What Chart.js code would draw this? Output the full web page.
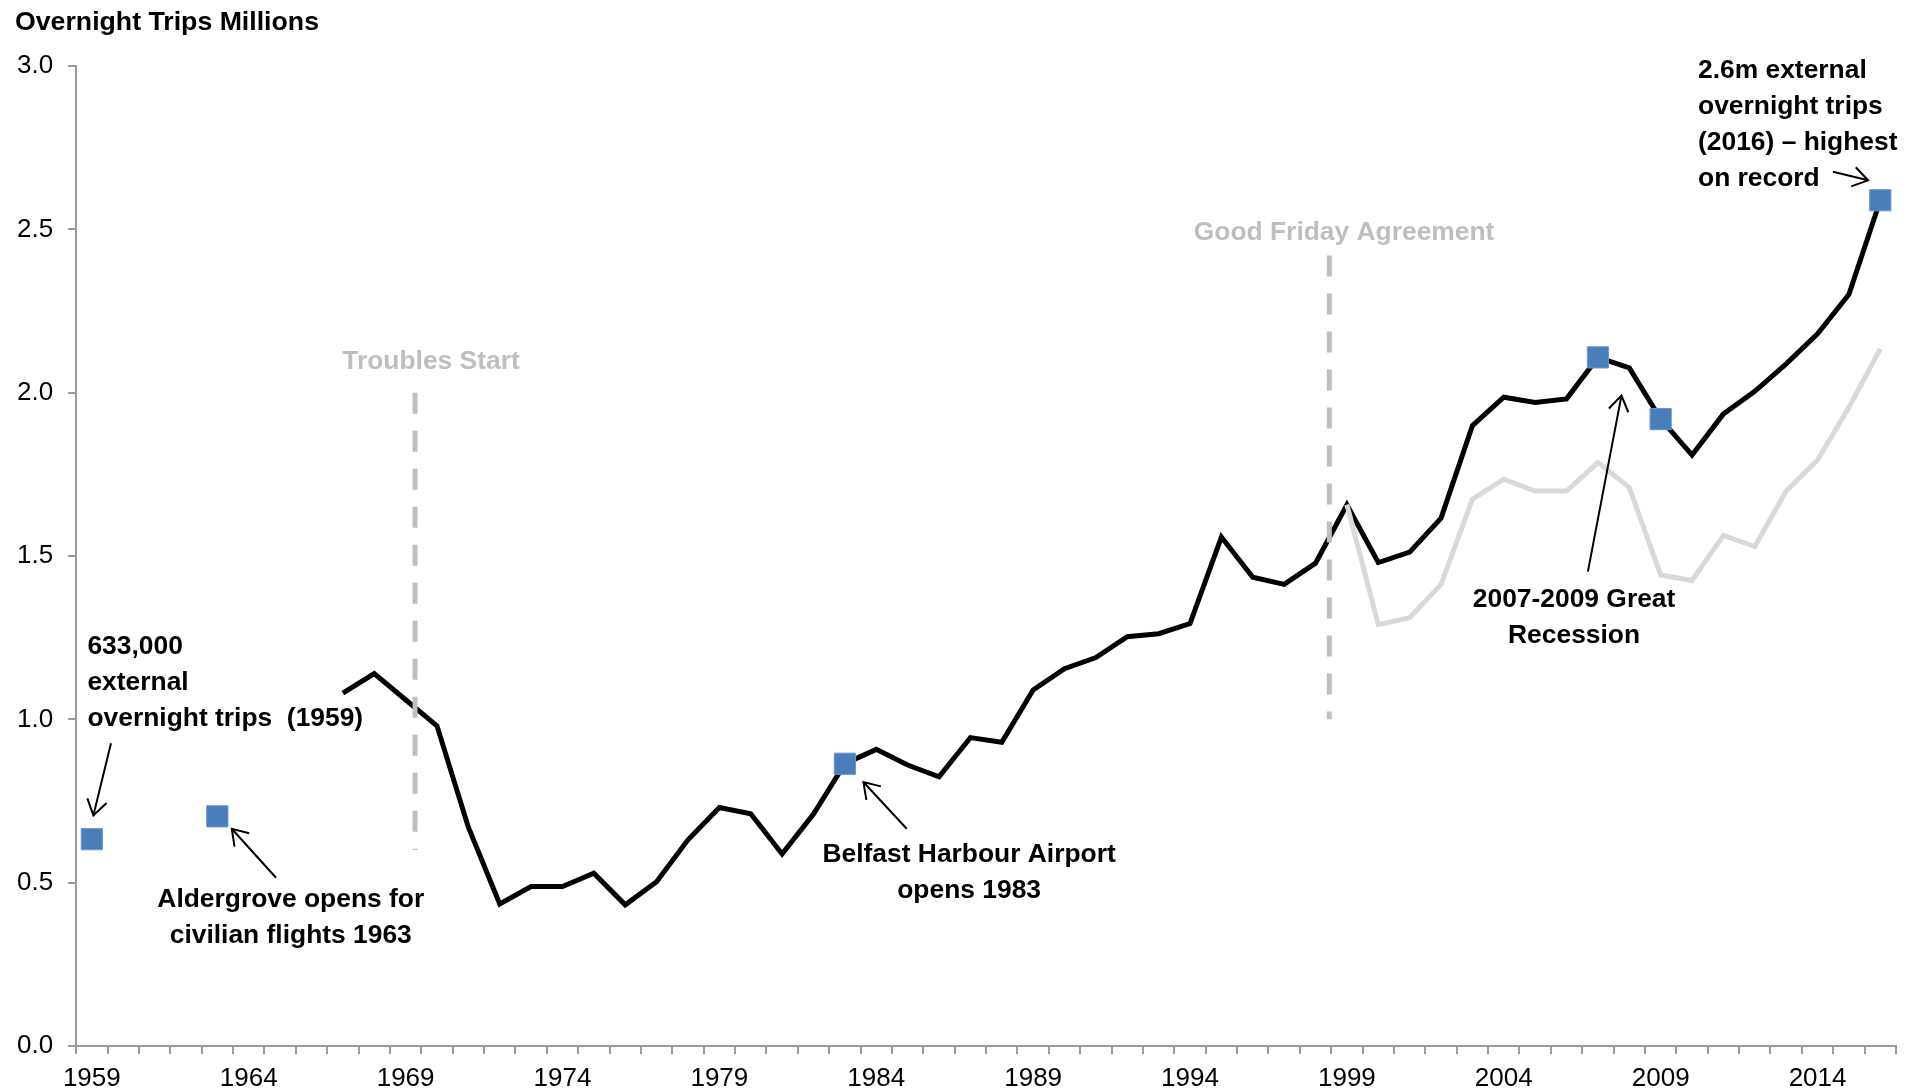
<!DOCTYPE html>
<html>
<head>
<meta charset="utf-8">
<title>Overnight Trips Millions</title>
<script src="https://cdn.jsdelivr.net/npm/chart.js@4.4.1/dist/chart.umd.min.js"></script>
<style>
  html, body { margin: 0; padding: 0; background: #fff; }
  canvas { display: block; }
</style>
</head>
<body>
<canvas id="tripsChart" width="1921" height="1090"></canvas>
<script>
// Categories: one per year
const years = [];
for (let y = 1959; y <= 2016; y++) years.push(y);
const labelYears = [1959, 1964, 1969, 1974, 1979, 1984, 1989, 1994, 1999, 2004, 2009, 2014];

const chartTitle = 'Overnight Trips Millions';

// Black line: external overnight trips (millions), from 1967
const totalStart = 1967;
const totalTrips = [
  1.08, 1.14, 1.06, 0.98, 0.67, 0.435, 0.488, 0.488, 0.529, 0.432,
  0.503, 0.631, 0.730, 0.711, 0.588, 0.710, 0.864, 0.908, 0.860, 0.824,
  0.944, 0.930, 1.090, 1.155, 1.189, 1.253, 1.262, 1.293, 1.558, 1.435,
  1.413, 1.478, 1.657, 1.480, 1.512, 1.616, 1.899, 1.986, 1.970, 1.981,
  2.108, 2.076, 1.919, 1.809, 1.935, 2.004, 2.088, 2.180, 2.301, 2.589
];

// Light grey line, from 1999
const greyStart = 1999;
const greyTrips = [
  1.657, 1.290, 1.311, 1.413, 1.674, 1.735, 1.699, 1.699, 1.786, 1.710,
  1.442, 1.425, 1.563, 1.529, 1.699, 1.794, 1.955, 2.134
];

// Blue squares
const markYears = [1959, 1963, 1983, 2007, 2009, 2016];
const markValues = [0.633, 0.703, 0.864, 2.108, 1.919, 2.589];

// Dashed event lines
const eventNames = ['Troubles Start', 'Good Friday Agreement'];
const eventYears = [1969.3, 1998.44];
const eventTop = [2.0, 2.42];
const eventBottom = [0.6, 1.0];
const eventLabelPos = [[1969.81, 2.071], [1998.91, 2.468]];

// Text notes (position = first baseline, in year / value units)
const notes = [
  { lines: ['633,000', 'external', 'overnight trips  (1959)'], at: [1958.86, 1.200], align: 'left' },
  { lines: ['Aldergrove opens for', 'civilian flights 1963'], at: [1965.34, 0.427], align: 'center' },
  { lines: ['Belfast Harbour Airport', 'opens 1983'], at: [1986.96, 0.564], align: 'center' },
  { lines: ['2007-2009 Great', 'Recession'], at: [2006.24, 1.344], align: 'center' },
  { lines: ['2.6m external', 'overnight trips', '(2016) \u2013 highest', 'on record'], at: [2010.19, 2.963], align: 'left' }
];

// Arrows: [from, to] in year / value units
const arrows = [
  [[1959.61, 0.927], [1959.05, 0.706]],
  [[1964.87, 0.515], [1963.46, 0.665]],
  [[1984.97, 0.665], [1983.59, 0.808]],
  [[2006.68, 1.452], [2007.75, 1.991]],
  [[2014.49, 2.676], [2015.61, 2.650]]
];

const fillFrom = (start, vals) => years.map(y => (y < start ? null : vals[y - start]));
const markData = years.map(y => {
  const i = markYears.indexOf(y);
  return i < 0 ? null : markValues[i];
});

const FONT = '"Liberation Sans", Arial, sans-serif';
Chart.defaults.font.family = FONT;

const notesPlugin = {
  id: 'notes',
  afterDatasetsDraw(chart) {
    const ctx = chart.ctx;
    const xs = chart.scales.xl;
    const ys = chart.scales.y;
    ctx.save();
    ctx.textBaseline = 'alphabetic';

    // chart title, top left
    ctx.font = 'bold 26.7px ' + FONT;
    ctx.fillStyle = '#000';
    ctx.textAlign = 'left';
    ctx.fillText(chartTitle, 15, 30);

    ctx.font = 'bold 26.4px ' + FONT;

    // event labels
    ctx.fillStyle = '#bfbfbf';
    ctx.textAlign = 'center';
    eventNames.forEach((name, i) => {
      ctx.fillText(name, xs.getPixelForValue(eventLabelPos[i][0]), ys.getPixelForValue(eventLabelPos[i][1]));
    });

    // notes
    ctx.fillStyle = '#000';
    notes.forEach(n => {
      ctx.textAlign = n.align;
      const px = xs.getPixelForValue(n.at[0]);
      const py = ys.getPixelForValue(n.at[1]);
      n.lines.forEach((t, i) => ctx.fillText(t, px, py + i * 36));
    });

    // arrows
    ctx.strokeStyle = '#000';
    ctx.lineWidth = 2;
    arrows.forEach(([from, to]) => {
      const x1 = xs.getPixelForValue(from[0]), y1 = ys.getPixelForValue(from[1]);
      const x2 = xs.getPixelForValue(to[0]), y2 = ys.getPixelForValue(to[1]);
      const ang = Math.atan2(y1 - y2, x1 - x2);
      const len = 18, spread = 0.58;
      ctx.beginPath();
      ctx.moveTo(x1, y1);
      ctx.lineTo(x2, y2);
      ctx.moveTo(x2 + len * Math.cos(ang - spread), y2 + len * Math.sin(ang - spread));
      ctx.lineTo(x2, y2);
      ctx.lineTo(x2 + len * Math.cos(ang + spread), y2 + len * Math.sin(ang + spread));
      ctx.stroke();
    });
    ctx.restore();
  }
};

const eventSets = eventNames.map((name, i) => ({
  label: name,
  xAxisID: 'xl',
  data: [{ x: eventYears[i], y: eventTop[i] }, { x: eventYears[i], y: eventBottom[i] }],
  borderColor: '#bfbfbf',
  borderWidth: 5,
  borderDash: [21, 17],
  pointRadius: 0,
  order: 1
}));

new Chart(document.getElementById('tripsChart'), {
  type: 'line',
  data: {
    labels: years,
    datasets: [
      {
        label: 'Highlights',
        data: markData,
        showLine: false,
        pointStyle: 'rect',
        pointRadius: 15,
        pointBackgroundColor: '#4a7ebb',
        pointBorderColor: '#6a98cf',
        pointBorderWidth: 1,
        order: 0
      },
      ...eventSets,
      {
        label: 'Grey',
        data: fillFrom(greyStart, greyTrips),
        borderColor: '#d9d9d9',
        borderWidth: 5,
        pointRadius: 0,
        order: 2
      },
      {
        label: 'Total',
        data: fillFrom(totalStart, totalTrips),
        borderColor: '#000',
        borderWidth: 5,
        pointRadius: 0,
        order: 3
      }
    ]
  },
  options: {
    responsive: false,
    animation: false,
    devicePixelRatio: 1,
    layout: { padding: { left: 2, right: 25, top: 66, bottom: -14 } },
    plugins: {
      legend: { display: false },
      tooltip: { enabled: false },
      title: { display: false }
    },
    scales: {
      x: {
        type: 'category',
        offset: true,
        grid: { offset: true, drawOnChartArea: false, tickLength: 8, color: '#999', lineWidth: 2 },
        border: { color: '#999', width: 2 },
        ticks: {
          autoSkip: false,
          maxRotation: 0,
          padding: 12,
          color: '#000',
          font: { size: 26, lineHeight: 1 },
          callback: (v, i) => (labelYears.includes(years[i]) ? String(years[i]) : '')
        }
      },
      xl: { type: 'linear', display: false, min: 1958.5, max: 2016.5 },
      y: {
        min: 0,
        max: 3,
        grid: { drawOnChartArea: false, tickLength: 8, color: '#999', lineWidth: 2 },
        border: { color: '#999', width: 2 },
        ticks: {
          stepSize: 0.5,
          padding: 15,
          color: '#000',
          font: { size: 26, lineHeight: 1 },
          callback: v => v.toFixed(1)
        }
      }
    }
  },
  plugins: [notesPlugin]
});
</script>
</body>
</html>
